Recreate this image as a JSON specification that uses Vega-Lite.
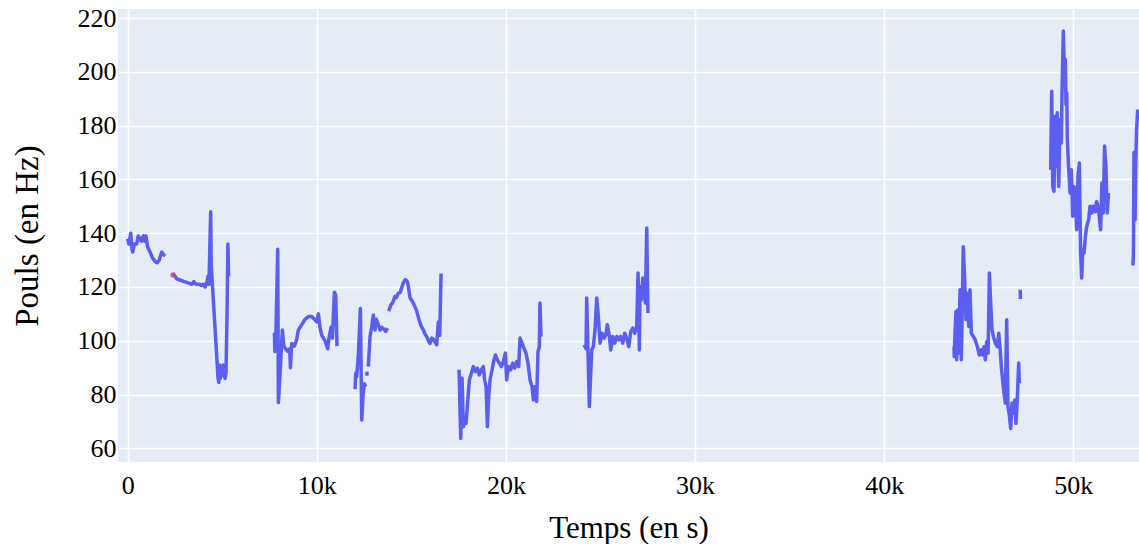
{
  "$schema": "https://vega.github.io/schema/vega-lite/v6.json",
  "width": 1021,
  "height": 453,
  "autosize": {"type": "none"},
  "padding": {"left": 118, "top": 9, "right": 0, "bottom": 82},
  "background": "#FFFFFF",
  "datasets": {
    "hr": [
      {"t": 0, "v": 138, "seg": 1}, {"t": 60, "v": 136, "seg": 1}, {"t": 165, "v": 140, "seg": 1}, {"t": 230, "v": 134, "seg": 1},
      {"t": 270, "v": 133, "seg": 1}, {"t": 350, "v": 136, "seg": 1}, {"t": 480, "v": 136, "seg": 1}, {"t": 560, "v": 139, "seg": 1},
      {"t": 655, "v": 138, "seg": 1}, {"t": 720, "v": 137, "seg": 1}, {"t": 830, "v": 139, "seg": 1}, {"t": 900, "v": 137, "seg": 1},
      {"t": 970, "v": 139, "seg": 1}, {"t": 1050, "v": 135, "seg": 1}, {"t": 1185, "v": 133, "seg": 1}, {"t": 1300, "v": 131, "seg": 1},
      {"t": 1450, "v": 129.5, "seg": 1}, {"t": 1550, "v": 129, "seg": 1}, {"t": 1675, "v": 130, "seg": 1}, {"t": 1750, "v": 132, "seg": 1},
      {"t": 1800, "v": 133, "seg": 1}, {"t": 1900, "v": 132, "seg": 1}, {"t": 1980, "v": 131.5, "seg": 1},

      {"t": 2400, "v": 125, "seg": 2}, {"t": 2500, "v": 124, "seg": 2}, {"t": 2600, "v": 123, "seg": 2}, {"t": 2800, "v": 122.5, "seg": 2},
      {"t": 3000, "v": 122, "seg": 2}, {"t": 3200, "v": 121.5, "seg": 2}, {"t": 3400, "v": 121, "seg": 2}, {"t": 3500, "v": 122, "seg": 2},
      {"t": 3600, "v": 121, "seg": 2}, {"t": 3800, "v": 121, "seg": 2}, {"t": 3900, "v": 120.5, "seg": 2}, {"t": 4000, "v": 121, "seg": 2},
      {"t": 4100, "v": 120, "seg": 2}, {"t": 4200, "v": 122, "seg": 2}, {"t": 4250, "v": 124, "seg": 2}, {"t": 4300, "v": 121, "seg": 2},
      {"t": 4390, "v": 148, "seg": 2}, {"t": 4420, "v": 128, "seg": 2}, {"t": 4600, "v": 107, "seg": 2}, {"t": 4780, "v": 86, "seg": 2},
      {"t": 4820, "v": 84.5, "seg": 2}, {"t": 4860, "v": 91, "seg": 2}, {"t": 4900, "v": 86, "seg": 2}, {"t": 4950, "v": 90, "seg": 2},
      {"t": 5000, "v": 87, "seg": 2}, {"t": 5050, "v": 91, "seg": 2}, {"t": 5100, "v": 89, "seg": 2}, {"t": 5150, "v": 86, "seg": 2},
      {"t": 5200, "v": 88, "seg": 2}, {"t": 5260, "v": 112, "seg": 2}, {"t": 5300, "v": 136, "seg": 2}, {"t": 5340, "v": 124, "seg": 2},

      {"t": 7760, "v": 103, "seg": 3}, {"t": 7780, "v": 96, "seg": 3}, {"t": 7830, "v": 100, "seg": 3}, {"t": 7935, "v": 134, "seg": 3},
      {"t": 7970, "v": 77, "seg": 3}, {"t": 8075, "v": 90, "seg": 3}, {"t": 8180, "v": 104, "seg": 3}, {"t": 8255, "v": 98, "seg": 3},
      {"t": 8360, "v": 97, "seg": 3}, {"t": 8465, "v": 96, "seg": 3}, {"t": 8570, "v": 97, "seg": 3}, {"t": 8605, "v": 90, "seg": 3},
      {"t": 8675, "v": 99, "seg": 3}, {"t": 8815, "v": 98, "seg": 3}, {"t": 8920, "v": 100, "seg": 3}, {"t": 9025, "v": 104, "seg": 3},
      {"t": 9205, "v": 106, "seg": 3}, {"t": 9380, "v": 108, "seg": 3}, {"t": 9555, "v": 109, "seg": 3}, {"t": 9735, "v": 109, "seg": 3},
      {"t": 9875, "v": 108, "seg": 3}, {"t": 10000, "v": 107, "seg": 3}, {"t": 10085, "v": 110, "seg": 3}, {"t": 10170, "v": 105, "seg": 3},
      {"t": 10260, "v": 102, "seg": 3}, {"t": 10435, "v": 100, "seg": 3}, {"t": 10575, "v": 97, "seg": 3}, {"t": 10645, "v": 101, "seg": 3},
      {"t": 10755, "v": 105, "seg": 3}, {"t": 10825, "v": 101, "seg": 3}, {"t": 10930, "v": 118, "seg": 3}, {"t": 11000, "v": 117, "seg": 3},
      {"t": 11070, "v": 98, "seg": 3},

      {"t": 12022, "v": 82, "seg": 4}, {"t": 12060, "v": 88, "seg": 4}, {"t": 12110, "v": 86.7, "seg": 4}, {"t": 12200, "v": 95, "seg": 4},
      {"t": 12305, "v": 112, "seg": 4}, {"t": 12375, "v": 70.5, "seg": 4}, {"t": 12450, "v": 80, "seg": 4}, {"t": 12515, "v": 84, "seg": 4},
      {"t": 12585, "v": 83, "seg": 4},

      {"t": 12640, "v": 87, "seg": 5}, {"t": 12665, "v": 88.5, "seg": 5},

      {"t": 12725, "v": 90.4, "seg": 6}, {"t": 12770, "v": 96, "seg": 6}, {"t": 12815, "v": 101.6, "seg": 6}, {"t": 12900, "v": 105, "seg": 6},
      {"t": 12990, "v": 109.6, "seg": 6}, {"t": 13080, "v": 104, "seg": 6}, {"t": 13150, "v": 108, "seg": 6}, {"t": 13220, "v": 106.6, "seg": 6},
      {"t": 13345, "v": 104, "seg": 6}, {"t": 13430, "v": 105, "seg": 6}, {"t": 13520, "v": 104.5, "seg": 6}, {"t": 13645, "v": 103.5, "seg": 6},
      {"t": 13740, "v": 104.7, "seg": 6},

      {"t": 13800, "v": 111, "seg": 7}, {"t": 13925, "v": 113.4, "seg": 7}, {"t": 14000, "v": 114, "seg": 7}, {"t": 14135, "v": 116.5, "seg": 7},
      {"t": 14200, "v": 116, "seg": 7}, {"t": 14310, "v": 117.7, "seg": 7}, {"t": 14415, "v": 118, "seg": 7}, {"t": 14500, "v": 120, "seg": 7},
      {"t": 14575, "v": 121.5, "seg": 7}, {"t": 14665, "v": 122.7, "seg": 7}, {"t": 14740, "v": 122.5, "seg": 7}, {"t": 14810, "v": 121.5, "seg": 7},
      {"t": 14930, "v": 116, "seg": 7}, {"t": 15020, "v": 115, "seg": 7}, {"t": 15105, "v": 114, "seg": 7}, {"t": 15200, "v": 112.5, "seg": 7},
      {"t": 15285, "v": 111, "seg": 7}, {"t": 15380, "v": 108.5, "seg": 7}, {"t": 15460, "v": 106.6, "seg": 7}, {"t": 15550, "v": 105, "seg": 7},
      {"t": 15635, "v": 104, "seg": 7}, {"t": 15720, "v": 102.5, "seg": 7}, {"t": 15810, "v": 101.6, "seg": 7}, {"t": 15900, "v": 100, "seg": 7},
      {"t": 15985, "v": 99, "seg": 7}, {"t": 16080, "v": 101, "seg": 7}, {"t": 16165, "v": 100.5, "seg": 7}, {"t": 16250, "v": 99.5, "seg": 7},
      {"t": 16340, "v": 98.5, "seg": 7}, {"t": 16425, "v": 107, "seg": 7}, {"t": 16500, "v": 102, "seg": 7}, {"t": 16570, "v": 125, "seg": 7},

      {"t": 17521, "v": 89.2, "seg": 8}, {"t": 17610, "v": 63.7, "seg": 8}, {"t": 17680, "v": 86.1, "seg": 8}, {"t": 17750, "v": 68, "seg": 8},
      {"t": 17820, "v": 70.5, "seg": 8}, {"t": 17890, "v": 69.3, "seg": 8}, {"t": 17960, "v": 75.5, "seg": 8}, {"t": 18065, "v": 85.4, "seg": 8},
      {"t": 18170, "v": 87.9, "seg": 8}, {"t": 18275, "v": 90.4, "seg": 8}, {"t": 18385, "v": 88.5, "seg": 8}, {"t": 18490, "v": 89.8, "seg": 8},
      {"t": 18595, "v": 87.3, "seg": 8}, {"t": 18700, "v": 89.2, "seg": 8}, {"t": 18805, "v": 90.4, "seg": 8}, {"t": 18875, "v": 85.4, "seg": 8},
      {"t": 18950, "v": 82.9, "seg": 8}, {"t": 19020, "v": 68, "seg": 8}, {"t": 19090, "v": 79.2, "seg": 8}, {"t": 19160, "v": 85.4, "seg": 8},
      {"t": 19265, "v": 89.2, "seg": 8}, {"t": 19370, "v": 92.9, "seg": 8}, {"t": 19440, "v": 94.7, "seg": 8}, {"t": 19545, "v": 92.9, "seg": 8},
      {"t": 19650, "v": 91.7, "seg": 8}, {"t": 19760, "v": 90.4, "seg": 8}, {"t": 19865, "v": 92.3, "seg": 8}, {"t": 19970, "v": 95.4, "seg": 8},
      {"t": 20040, "v": 85.4, "seg": 8}, {"t": 20130, "v": 90.4, "seg": 8}, {"t": 20250, "v": 89.2, "seg": 8}, {"t": 20360, "v": 91.7, "seg": 8},
      {"t": 20465, "v": 89.8, "seg": 8}, {"t": 20570, "v": 92.3, "seg": 8}, {"t": 20675, "v": 90.4, "seg": 8}, {"t": 20745, "v": 101, "seg": 8},
      {"t": 20850, "v": 99.1, "seg": 8}, {"t": 20955, "v": 97.2, "seg": 8}, {"t": 21060, "v": 95.4, "seg": 8}, {"t": 21165, "v": 91.7, "seg": 8},
      {"t": 21275, "v": 85.4, "seg": 8}, {"t": 21380, "v": 82.9, "seg": 8}, {"t": 21450, "v": 78, "seg": 8}, {"t": 21520, "v": 82.9, "seg": 8},
      {"t": 21625, "v": 77.4, "seg": 8}, {"t": 21695, "v": 96, "seg": 8}, {"t": 21765, "v": 97.8, "seg": 8}, {"t": 21800, "v": 114, "seg": 8},
      {"t": 21855, "v": 101.6, "seg": 8},

      {"t": 24130, "v": 98.5, "seg": 9}, {"t": 24235, "v": 97, "seg": 9}, {"t": 24270, "v": 115.9, "seg": 9}, {"t": 24410, "v": 75.5, "seg": 9},
      {"t": 24535, "v": 96.6, "seg": 9}, {"t": 24620, "v": 97.8, "seg": 9}, {"t": 24710, "v": 104, "seg": 9}, {"t": 24800, "v": 115.9, "seg": 9},
      {"t": 24885, "v": 109, "seg": 9}, {"t": 24975, "v": 99.1, "seg": 9}, {"t": 25080, "v": 102.8, "seg": 9}, {"t": 25185, "v": 101, "seg": 9},
      {"t": 25290, "v": 102.2, "seg": 9}, {"t": 25360, "v": 106, "seg": 9}, {"t": 25470, "v": 101.6, "seg": 9}, {"t": 25540, "v": 96.6, "seg": 9},
      {"t": 25645, "v": 101.6, "seg": 9}, {"t": 25750, "v": 99.1, "seg": 9}, {"t": 25860, "v": 101.6, "seg": 9}, {"t": 25965, "v": 100.3, "seg": 9},
      {"t": 26070, "v": 101.6, "seg": 9}, {"t": 26175, "v": 99.1, "seg": 9}, {"t": 26280, "v": 102.8, "seg": 9}, {"t": 26385, "v": 101, "seg": 9},
      {"t": 26495, "v": 97.8, "seg": 9}, {"t": 26600, "v": 103.4, "seg": 9}, {"t": 26705, "v": 104.7, "seg": 9}, {"t": 26810, "v": 102.8, "seg": 9},
      {"t": 26915, "v": 105.3, "seg": 9}, {"t": 26985, "v": 125.2, "seg": 9}, {"t": 27055, "v": 96.6, "seg": 9}, {"t": 27090, "v": 120.2, "seg": 9},
      {"t": 27160, "v": 115.2, "seg": 9}, {"t": 27235, "v": 123.3, "seg": 9}, {"t": 27300, "v": 120.2, "seg": 9}, {"t": 27370, "v": 114, "seg": 9},
      {"t": 27445, "v": 141.9, "seg": 9}, {"t": 27510, "v": 110.3, "seg": 9},

      {"t": 43690, "v": 97.8, "seg": 10}, {"t": 43700, "v": 94.1, "seg": 10}, {"t": 43745, "v": 103.4, "seg": 10}, {"t": 43795, "v": 110.9, "seg": 10},
      {"t": 43830, "v": 92.9, "seg": 10}, {"t": 43900, "v": 111.5, "seg": 10}, {"t": 43935, "v": 95.4, "seg": 10}, {"t": 44010, "v": 119, "seg": 10},
      {"t": 44075, "v": 92.9, "seg": 10}, {"t": 44110, "v": 105.3, "seg": 10}, {"t": 44180, "v": 135, "seg": 10}, {"t": 44255, "v": 122.7, "seg": 10},
      {"t": 44325, "v": 107.8, "seg": 10}, {"t": 44395, "v": 117.7, "seg": 10}, {"t": 44470, "v": 105.3, "seg": 10}, {"t": 44535, "v": 119, "seg": 10},
      {"t": 44605, "v": 102.8, "seg": 10}, {"t": 44710, "v": 101.6, "seg": 10}, {"t": 44815, "v": 100.3, "seg": 10}, {"t": 44925, "v": 97.8, "seg": 10},
      {"t": 45030, "v": 94.7, "seg": 10}, {"t": 45135, "v": 96.6, "seg": 10}, {"t": 45210, "v": 94.7, "seg": 10}, {"t": 45280, "v": 97.8, "seg": 10},
      {"t": 45345, "v": 92.9, "seg": 10}, {"t": 45420, "v": 99.7, "seg": 10}, {"t": 45490, "v": 95.4, "seg": 10}, {"t": 45560, "v": 125.2, "seg": 10},
      {"t": 45630, "v": 114, "seg": 10}, {"t": 45700, "v": 104.1, "seg": 10}, {"t": 45770, "v": 101.6, "seg": 10}, {"t": 45875, "v": 99.1, "seg": 10},
      {"t": 45980, "v": 97.8, "seg": 10}, {"t": 46055, "v": 102.8, "seg": 10}, {"t": 46120, "v": 97.8, "seg": 10}, {"t": 46190, "v": 90.4, "seg": 10},
      {"t": 46295, "v": 82.9, "seg": 10}, {"t": 46400, "v": 76.8, "seg": 10}, {"t": 46475, "v": 107.8, "seg": 10}, {"t": 46545, "v": 75.5, "seg": 10},
      {"t": 46615, "v": 72.4, "seg": 10}, {"t": 46685, "v": 67.4, "seg": 10}, {"t": 46755, "v": 76.8, "seg": 10}, {"t": 46825, "v": 73, "seg": 10},
      {"t": 46900, "v": 78, "seg": 10}, {"t": 46965, "v": 69.3, "seg": 10}, {"t": 47035, "v": 78, "seg": 10}, {"t": 47110, "v": 91.7, "seg": 10},
      {"t": 47140, "v": 84.2, "seg": 10},

      {"t": 47190, "v": 119, "seg": 11}, {"t": 47200, "v": 115.5, "seg": 11},

      {"t": 48800, "v": 163.6, "seg": 12}, {"t": 48855, "v": 192.8, "seg": 12}, {"t": 48910, "v": 157.4, "seg": 12}, {"t": 48975, "v": 155.6, "seg": 12},
      {"t": 49045, "v": 183.5, "seg": 12}, {"t": 49120, "v": 164.9, "seg": 12}, {"t": 49150, "v": 184.8, "seg": 12}, {"t": 49225, "v": 157.4, "seg": 12},
      {"t": 49295, "v": 182.3, "seg": 12}, {"t": 49365, "v": 173.6, "seg": 12}, {"t": 49400, "v": 192.2, "seg": 12}, {"t": 49470, "v": 215.2, "seg": 12},
      {"t": 49545, "v": 194.7, "seg": 12}, {"t": 49575, "v": 204.6, "seg": 12}, {"t": 49610, "v": 187.9, "seg": 12}, {"t": 49650, "v": 192.2, "seg": 12},
      {"t": 49680, "v": 174.8, "seg": 12}, {"t": 49755, "v": 163.6, "seg": 12}, {"t": 49825, "v": 155, "seg": 12}, {"t": 49895, "v": 163.6, "seg": 12},
      {"t": 49965, "v": 146.3, "seg": 12}, {"t": 50035, "v": 157.4, "seg": 12}, {"t": 50105, "v": 152.5, "seg": 12}, {"t": 50175, "v": 141.3, "seg": 12},
      {"t": 50245, "v": 161, "seg": 12}, {"t": 50315, "v": 166.1, "seg": 12}, {"t": 50385, "v": 132.6, "seg": 12}, {"t": 50440, "v": 123.3, "seg": 12},
      {"t": 50495, "v": 134, "seg": 12}, {"t": 50565, "v": 132.6, "seg": 12}, {"t": 50635, "v": 138.8, "seg": 12}, {"t": 50705, "v": 142.5, "seg": 12},
      {"t": 50810, "v": 145, "seg": 12}, {"t": 50880, "v": 150, "seg": 12}, {"t": 50985, "v": 147.5, "seg": 12}, {"t": 51055, "v": 150, "seg": 12},
      {"t": 51160, "v": 148, "seg": 12}, {"t": 51230, "v": 151.8, "seg": 12}, {"t": 51300, "v": 150, "seg": 12}, {"t": 51370, "v": 146.3, "seg": 12},
      {"t": 51440, "v": 141.3, "seg": 12}, {"t": 51510, "v": 158.7, "seg": 12}, {"t": 51580, "v": 147.5, "seg": 12}, {"t": 51650, "v": 172.4, "seg": 12},
      {"t": 51720, "v": 164.9, "seg": 12}, {"t": 51790, "v": 147.5, "seg": 12}, {"t": 51860, "v": 155, "seg": 12},

      {"t": 53150, "v": 128, "seg": 13}, {"t": 53175, "v": 132, "seg": 13}, {"t": 53205, "v": 170, "seg": 13}, {"t": 53235, "v": 160, "seg": 13},
      {"t": 53265, "v": 145, "seg": 13}, {"t": 53300, "v": 166, "seg": 13}, {"t": 53340, "v": 178, "seg": 13}, {"t": 53400, "v": 186, "seg": 13}
    ],
    "start": [
      {"t": 2400, "v": 124.5}
    ]
  },
  "layer": [
    {
      "data": {"name": "hr"},
      "mark": {"type": "line", "color": "#5A5FF0", "strokeWidth": 3.5, "strokeJoin": "round", "clip": true},
      "encoding": {
        "x": {
          "field": "t",
          "type": "quantitative",
          "scale": {"domain": [-510, 53470], "nice": false, "zero": false},
          "axis": {
            "values": [0, 10000, 20000, 30000, 40000, 50000],
            "labelExpr": "datum.value === 0 ? '0' : format(datum.value / 1000, 'd') + 'k'",
            "labelPadding": 10,
            "title": "Temps (en s)",
            "titleFontSize": 31,
            "titleBaseline": "alphabetic",
            "titleY": 75
          }
        },
        "y": {
          "field": "v",
          "type": "quantitative",
          "scale": {"domain": [54.9, 223.4], "nice": false, "zero": false},
          "axis": {
            "values": [60, 80, 100, 120, 140, 160, 180, 200, 220],
            "labelPadding": 2,
            "title": "Pouls (en Hz)",
            "titleFontSize": 33,
            "titleAngle": -90,
            "titleAlign": "center",
            "titleBaseline": "alphabetic",
            "titleX": -81,
            "titleY": 226.5
          }
        },
        "detail": {"field": "seg", "type": "nominal"}
      }
    },
    {
      "data": {"name": "start"},
      "mark": {"type": "point", "filled": true, "color": "#B0509A", "size": 30, "opacity": 0.8},
      "encoding": {
        "x": {"field": "t", "type": "quantitative"},
        "y": {"field": "v", "type": "quantitative"}
      }
    }
  ],
  "config": {
    "font": "Liberation Serif",
    "view": {"fill": "#E5ECF6", "stroke": null},
    "axis": {
      "domain": false,
      "ticks": false,
      "grid": true,
      "gridColor": "#FFFFFF",
      "gridWidth": 1.6,
      "labelFont": "Liberation Serif",
      "labelFontSize": 26,
      "labelColor": "#000000",
      "titleFont": "Liberation Serif",
      "titleFontWeight": "normal",
      "titleColor": "#000000"
    }
  }
}
